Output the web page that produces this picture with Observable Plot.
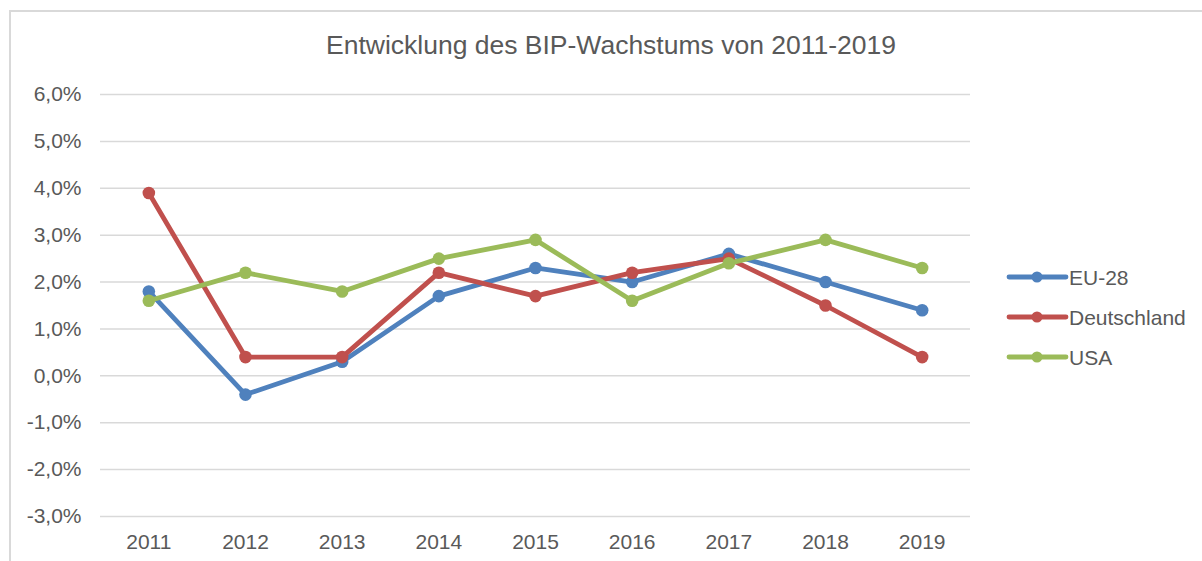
<!DOCTYPE html>
<html>
<head>
<meta charset="utf-8">
<script src="https://cdn.jsdelivr.net/npm/d3@7"></script>
<script src="https://cdn.jsdelivr.net/npm/@observablehq/plot@0.6"></script>
<style>
  html, body { margin: 0; padding: 0; background: #fff; }
  body { width: 1202px; height: 561px; position: relative; overflow: hidden; font-family: "Liberation Sans", Arial, sans-serif; }
  #frame { position: absolute; left: 9px; top: 10px; width: 1300px; height: 700px; border: 2px solid #d9d9d9; box-sizing: border-box; }
  #title { position: absolute; left: 0; width: 1222px; top: 29px; text-align: center; font-size: 26.5px; color: #595959; line-height: 32px; }
  #chart { position: absolute; left: 0; top: 0; }
  #legend { position: absolute; left: 1000px; top: 250px; }
</style>
</head>
<body>
<div id="frame"></div>
<div id="title">Entwicklung des BIP-Wachstums von 2011-2019</div>
<div id="chart"></div>
<svg id="legend" width="202" height="140"></svg>
<script>
const years = ["2011","2012","2013","2014","2015","2016","2017","2018","2019"];
const seriesNames = ["EU-28", "Deutschland", "USA"];
const seriesColors = ["#4f81bd", "#c0504d", "#9bbb59"];
const eu28 = [1.8, -0.4, 0.3, 1.7, 2.3, 2.0, 2.6, 2.0, 1.4];
const deutschland = [3.9, 0.4, 0.4, 2.2, 1.7, 2.2, 2.5, 1.5, 0.4];
const usa = [1.6, 2.2, 1.8, 2.5, 2.9, 1.6, 2.4, 2.9, 2.3];
const yTicks = [-3, -2, -1, 0, 1, 2, 3, 4, 5, 6];

const seriesValues = [eu28, deutschland, usa];
const fmt = d => d.toFixed(1).replace(".", ",") + "%";

const marks = [
  Plot.ruleY(yTicks, {stroke: "#d9d9d9", strokeWidth: 1.5})
];
seriesNames.forEach((name, i) => {
  const rows = years.map((y, j) => ({year: y, value: seriesValues[i][j]}));
  marks.push(Plot.lineY(rows, {x: "year", y: "value", stroke: seriesColors[i], strokeWidth: 4.8, strokeLinejoin: "round", strokeLinecap: "round"}));
  marks.push(Plot.dot(rows, {x: "year", y: "value", fill: seriesColors[i], r: 6.3}));
});
marks.push(Plot.axisX({tickSize: 0, tickPadding: 18, fontSize: 21, fill: "#595959", label: null}));
marks.push(Plot.axisY({ticks: yTicks, tickFormat: fmt, tickSize: 0, tickPadding: 19, fontSize: 21, fill: "#595959", label: null}));

const chart = Plot.plot({
  width: 990,
  height: 561,
  marginTop: 94,
  marginBottom: 45,
  marginLeft: 100,
  marginRight: 20,
  style: {background: "transparent", fontFamily: "Liberation Sans, Arial, sans-serif", overflow: "visible"},
  x: {type: "point", domain: years, padding: 0.5, round: false},
  y: {domain: [-3, 6]},
  marks
});
document.getElementById("chart").appendChild(chart);

// legend
const lg = d3.select("#legend");
seriesNames.forEach((name, i) => {
  const cy = 27 + i * 40;
  const g = lg.append("g");
  g.append("line").attr("x1", 9).attr("x2", 66).attr("y1", cy).attr("y2", cy)
    .attr("stroke", seriesColors[i]).attr("stroke-width", 4.8).attr("stroke-linecap", "round");
  g.append("circle").attr("cx", 37).attr("cy", cy).attr("r", 5.5).attr("fill", seriesColors[i]);
  g.append("text").attr("x", 69).attr("y", cy + 7.5).text(name)
    .attr("fill", "#595959").attr("font-size", 21).attr("font-family", "Liberation Sans, Arial, sans-serif");
});
</script>
</body>
</html>
